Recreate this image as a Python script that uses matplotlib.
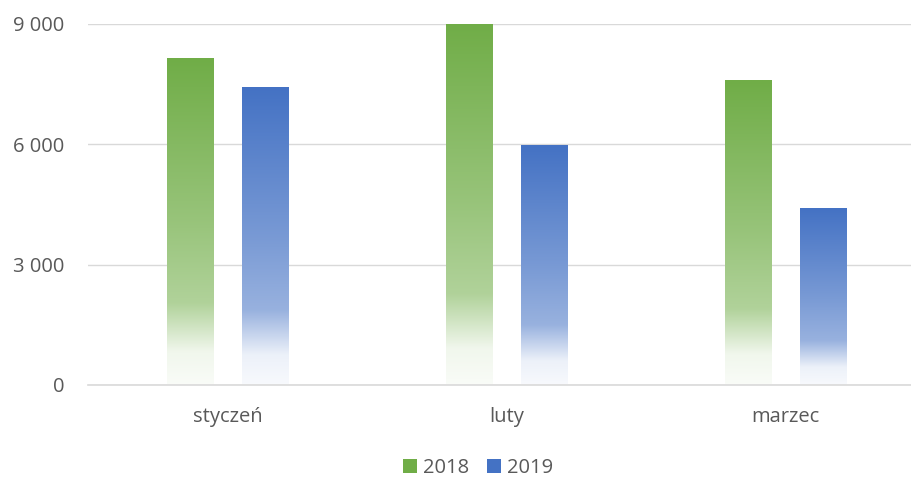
import matplotlib.pyplot as plt
import numpy as np
from matplotlib.colors import to_rgb
from matplotlib.patches import Patch

# dane
miesiace = ['styczeń', 'luty', 'marzec']
lata = ['2018', '2019']
wart_2018 = [8150, 9020, 7600]
wart_2019 = [7420, 5980, 4400]
kolory = ['#70AD47', '#4472C4']
yticks = [0, 3000, 6000, 9000]

plt.rcParams['font.family'] = ['Open Sans', 'DejaVu Sans']
szary = '#595959'

fig = plt.figure(figsize=(9.12, 4.78), dpi=100)
ax = fig.add_axes([88/912, 93/478, 837/912, 361/478])

x = np.arange(len(miesiace))
szer = 0.165
off = 0.136

# profil przezroczystosci gradientu (0 = dol, 1 = gora)
t = np.linspace(0, 1, 256)
alfa = np.interp(t, [0, 0.1, 0.25, 0.5, 1.0], [0.04, 0.10, 0.55, 0.72, 1.0])

def gradient(kolor):
    rgb = np.array(to_rgb(kolor))
    img = 1 - alfa[:, None] * (1 - rgb[None, :])
    return img[::-1, None, :]

for i, (vals, kol) in enumerate(zip([wart_2018, wart_2019], kolory)):
    bars = ax.bar(x + (2*i - 1) * off, vals, szer, color='none', zorder=2)
    for b in bars:
        x0, w, h = b.get_x(), b.get_width(), b.get_height()
        ax.imshow(gradient(kol), extent=[x0, x0 + w, 0, h], aspect='auto',
                  interpolation='bilinear', zorder=2)

ax.set_xlim(-0.5, 2.5)
ax.set_ylim(0, 9000)
ax.set_yticks(yticks)
ax.set_yticklabels([f'{v:,}'.replace(',', ' ') for v in yticks])
ax.set_xticks(x)
ax.set_xticklabels(miesiace)
ax.tick_params(axis='y', length=0, pad=17, labelsize=14.5, labelcolor=szary)
ax.tick_params(axis='x', length=0, pad=16, labelsize=14.5, labelcolor=szary)
ax.yaxis.grid(True, color='#D9D9D9', lw=1)
ax.set_axisbelow(True)
for s in ['top', 'right', 'left']:
    ax.spines[s].set_visible(False)
ax.spines['bottom'].set_color('#D9D9D9')
ax.spines['bottom'].set_linewidth(1.2)

uchwyty = [Patch(facecolor=k, edgecolor='none') for k in kolory]
leg = fig.legend(uchwyty, lata, loc='center', bbox_to_anchor=(478/912, 1 - 468/478),
                 ncol=2, frameon=False, fontsize=14.5, handlelength=0.7, handleheight=0.7,
                 handletextpad=0.3, columnspacing=0.9)
for tx in leg.get_texts():
    tx.set_color(szary)

fig.savefig('out.png', dpi=100)
